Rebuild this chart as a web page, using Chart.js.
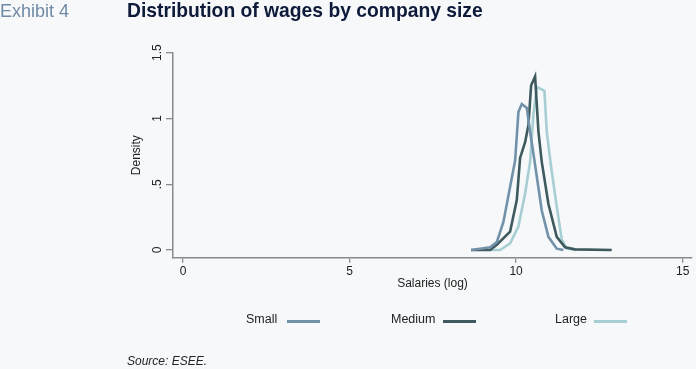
<!DOCTYPE html>
<html>
<head>
<meta charset="utf-8">
<script src="https://cdn.jsdelivr.net/npm/chart.js@4/dist/chart.umd.min.js"></script>
<style>
  html, body { margin:0; padding:0; background:#f6f8fa; }
  #wrap { position:relative; width:696px; height:369px; background:#f6f8fa; overflow:hidden; font-family:"Liberation Sans", Arial, sans-serif; }
  canvas { position:absolute; left:0; top:0; }
  .t { position:absolute; white-space:nowrap; }
  #exhibit { left:0; top:1px; font-size:18px; color:#6f8aa6; }
  #title { left:127px; top:0px; font-size:19.3px; font-weight:bold; color:#0e1a3a; }
  #source { left:127px; top:354px; font-size:12px; font-style:italic; color:#222; }
  .lg { position:absolute; font-size:12.5px; color:#222; top:312px; }
  .ll { position:absolute; height:3px; top:319.5px; width:33px; }
</style>
</head>
<body>
<div id="wrap">
  <canvas id="c" width="696" height="369"></canvas>
  <div class="t" id="exhibit">Exhibit 4</div>
  <div class="t" id="title">Distribution of wages by company size</div>
  <div class="t" id="source">Source: ESEE.</div>
  <div id="legend"></div>
</div>
<script>
// ---- data ----
const seriesNames = ["Small", "Medium", "Large"];
const smallX  = [8.65, 9.22, 9.42, 9.62, 9.82, 9.97, 10.07, 10.17, 10.32, 10.42, 10.55, 10.77, 10.97, 11.22, 11.42];
const smallY  = [0, 0.02, 0.06, 0.215, 0.48, 0.68, 1.05, 1.11, 1.08, 0.90, 0.68, 0.30, 0.10, 0.01, 0];
const mediumX = [8.65, 9.22, 9.42, 9.82, 10.02, 10.12, 10.27, 10.37, 10.45, 10.57, 10.67, 10.77, 10.97, 11.22, 11.47, 11.77, 12.87];
const mediumY = [0, 0, 0.04, 0.14, 0.38, 0.70, 0.82, 0.95, 1.25, 1.32, 0.90, 0.67, 0.35, 0.10, 0.02, 0.005, 0];
const largeX  = [9.25, 9.52, 9.82, 10.07, 10.27, 10.42, 10.52, 10.62, 10.85, 10.92, 11.04, 11.22, 11.37, 11.52, 11.8];
const largeY  = [0, 0, 0.05, 0.18, 0.43, 0.67, 1.03, 1.24, 1.21, 0.90, 0.65, 0.33, 0.08, 0.01, 0];
const xTicks = [0, 5, 10, 15];
const yTicks = [0, 0.5, 1, 1.5];
const yTickLabels = ["0", ".5", "1", "1.5"];
const colors = ["#7292aa", "#3e5a5e", "#a7ced2"];

const pts = (xs, ys) => xs.map((x, i) => ({x: x, y: ys[i]}));
const seriesData = [pts(smallX, smallY), pts(mediumX, mediumY), pts(largeX, largeY)];

// legend (HTML)
const legendPos = [{t:246, l:287}, {t:391, l:443}, {t:555, l:594}];
const lg = document.getElementById('legend');
seriesNames.forEach((n, i) => {
  const s = document.createElement('div'); s.className = 'lg'; s.textContent = n; s.style.left = legendPos[i].t + 'px'; lg.appendChild(s);
  const l = document.createElement('div'); l.className = 'll'; l.style.left = legendPos[i].l + 'px'; l.style.background = colors[i]; lg.appendChild(l);
});

const yLabelPlugin = {
  id: 'yLabels',
  afterDraw(chart) {
    const sc = chart.scales.y, ctx = chart.ctx;
    ctx.save();
    ctx.font = '12px "Liberation Sans", Arial, sans-serif';
    ctx.fillStyle = '#222';
    ctx.textAlign = 'center';
    ctx.textBaseline = 'middle';
    yTicks.forEach((v, i) => {
      const py = sc.getPixelForValue(v);
      ctx.save();
      ctx.translate(158, py);
      ctx.rotate(-Math.PI / 2);
      ctx.fillText(yTickLabels[i], 0, 0);
      ctx.restore();
    });
    ctx.restore();
  }
};

new Chart(document.getElementById('c'), {
  type: 'line',
  data: {
    datasets: seriesNames.map((n, i) => ({
      label: n, data: seriesData[i], borderColor: colors[i], borderWidth: 2.6,
      pointRadius: 0, tension: 0, fill: false
    }))
  },
  options: {
    responsive: false, animation: false,
    layout: { padding: { top: 52.7, right: 4, left: 0, bottom: 0 } },
    plugins: { legend: { display: false }, tooltip: { enabled: false } },
    scales: {
      x: {
        type: 'linear', min: -0.3, max: 15.28,
        afterBuildTicks: s => { s.ticks = xTicks.map(v => ({value: v})); },
        afterFit: s => { s.height = 111.3; },
        ticks: { color: '#222', font: { family: '"Liberation Sans", Arial, sans-serif', size: 12 }, padding: 2, callback: v => String(v) },
        grid: { drawOnChartArea: false, color: '#8a8a8a', tickLength: 5, lineWidth: 1.3 },
        border: { color: '#8a8a8a', width: 1.5 },
        title: { display: true, text: 'Salaries (log)', color: '#222', font: { family: '"Liberation Sans", Arial, sans-serif', size: 12 }, padding: { top: 0, bottom: 77.8 } }
      },
      y: {
        type: 'linear', min: -0.0586, max: 1.5,
        afterBuildTicks: s => { s.ticks = yTicks.map(v => ({value: v})); },
        afterFit: s => { s.width = 173; },
        ticks: { display: false },
        grid: { drawOnChartArea: false, color: '#8a8a8a', tickLength: 7, lineWidth: 1.3 },
        border: { color: '#8a8a8a', width: 1.5 },
        title: { display: true, text: 'Density', color: '#222', font: { family: '"Liberation Sans", Arial, sans-serif', size: 12 }, padding: { top: 129, bottom: 0 } }
      }
    }
  },
  plugins: [yLabelPlugin]
});
</script>
</body>
</html>
